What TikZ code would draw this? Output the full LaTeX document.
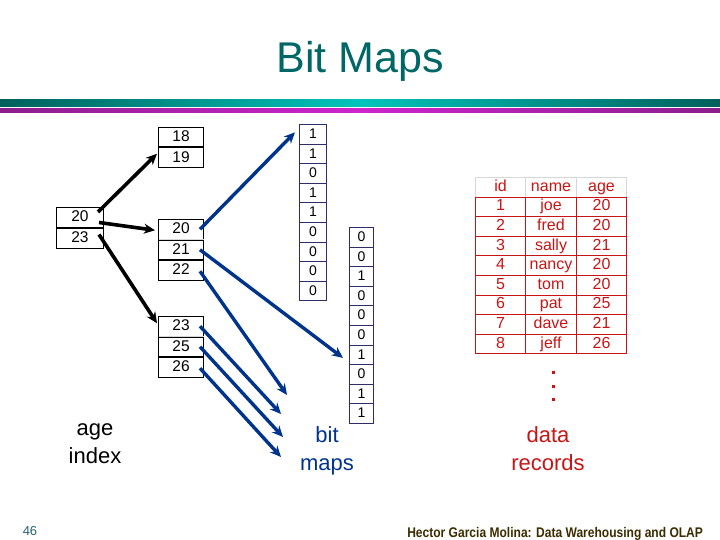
\documentclass[tikz,border=0pt]{standalone}
\usepackage{fontspec}
\setmainfont{Liberation Sans}
\usetikzlibrary{arrows.meta,calc}
\definecolor{titleteal}{RGB}{0,102,102}
\definecolor{bardark}{RGB}{0,96,92}
\definecolor{barlight}{RGB}{0,196,186}
\definecolor{magdark}{RGB}{140,30,140}
\definecolor{maglight}{RGB}{206,36,206}
\definecolor{arrowblue}{RGB}{0,51,140}
\definecolor{bmnavy}{RGB}{45,45,110}
\definecolor{recred}{RGB}{200,20,20}
\definecolor{hdrgray}{RGB}{215,215,215}
\definecolor{pagenum}{RGB}{40,100,110}
\definecolor{footcol}{RGB}{60,45,0}
\begin{document}
\begin{tikzpicture}[x=1pt,y=-1pt,
  icell/.style={draw=black, line width=1pt, anchor=north west, minimum width=45pt, minimum height=19.5pt, inner sep=0pt, text height=11pt, text depth=2pt, font=\fontsize{15.5}{15.5}\selectfont},
  bcell/.style={draw=bmnavy, line width=1pt, anchor=north west, minimum height=19.6pt, inner sep=0pt, text height=10.5pt, text depth=2pt, font=\fontsize{14}{14}\selectfont},
  tcell/.style={draw=recred, line width=1pt, anchor=north west, minimum height=19.6pt, inner sep=0pt, text height=11pt, text depth=3pt, text=recred, font=\fontsize{16}{16}\selectfont},
  hcell/.style={tcell, draw=hdrgray},
  blackarrow/.style={line width=3.6pt, draw=black, -{Stealth[length=11pt,width=10pt]}},
  bluearrow/.style={line width=3.4pt, draw=arrowblue, -{Stealth[length=11pt,width=10pt]}},
  label/.style={align=center, font=\fontsize{22}{28}\selectfont}
]
\useasboundingbox (0,0) rectangle (720,540);

% title
\node[text=titleteal, font=\fontsize{43}{43}\selectfont] (title) at (360,61) {Bit Maps};

% bars
\shade[left color=bardark, right color=bardark, middle color=barlight] (0,100) rectangle (720,107);
\shade[left color=magdark, right color=magdark, middle color=maglight] (0,109) rectangle (720,113);

% left index node
\node[icell, minimum width=47pt, minimum height=20pt] (l20) at (56,207) {20};
\node[icell, minimum width=47pt, minimum height=20pt] (l23) at (l20.south west) {23};

% leaf 18/19
\node[icell] (c18) at (158,127) {18};
\node[icell] (c19) at (c18.south west) {19};
% leaf 20/21/22
\node[icell] (c20) at (158,219) {20};
\node[icell] (c21) at (c20.south west) {21};
\node[icell] (c22) at (c21.south west) {22};
\draw[hdrgray, line width=1pt] ($(c20.south west)+(0.5,0)$) -- ($(c20.south east)+(-0.5,0)$);
% leaf 23/25/26
\node[icell] (c23) at (158,316) {23};
\node[icell] (c25) at (c23.south west) {25};
\node[icell] (c26) at (c25.south west) {26};
\draw[hdrgray, line width=1pt] ($(c23.south west)+(0.5,0)$) -- ($(c23.south east)+(-0.5,0)$);

% bitmaps
\foreach \v [count=\i] in {1,1,0,1,1,0,0,0,0}
  \node[bcell, minimum width=27pt] (ba\i) at (299,{124+(\i-1)*19.6}) {\v};
\foreach \v [count=\i] in {0,0,1,0,0,0,1,0,1,1}
  \node[bcell, minimum width=24pt] (bb\i) at (349,{227+(\i-1)*19.6}) {\v};

% data records table
\node[hcell, minimum width=50pt] (hid) at (475,177) {id};
\node[hcell, minimum width=51pt] (hname) at (525,177) {name};
\node[hcell, minimum width=50pt] (hage) at (576,177) {age};
\foreach \a/\b/\c [count=\i] in {1/joe/20,2/fred/20,3/sally/21,4/nancy/20,5/tom/20,6/pat/25,7/dave/21,8/jeff/26}{
  \node[tcell, minimum width=50pt] (rid\i) at (475,{177+\i*19.6}) {\a};
  \node[tcell, minimum width=51pt] (rname\i) at (525,{177+\i*19.6}) {\b};
  \node[tcell, minimum width=50pt] (rage\i) at (576,{177+\i*19.6}) {\c};
}
\foreach \yy in {372,386,399}
  \fill[recred] (551.5,\yy-1.5) rectangle (554.5,\yy+1.5);

% black arrows (index -> leaves)
\draw[blackarrow] ($(l20.north east)+(-6,5)$) -- ($(c19.west)+(-1,-4)$);
\draw[blackarrow] ($(l20.east)+(-5,5)$) -- ($(c20.west)+(-3,1)$);
\draw[blackarrow] ($(l23.east)+(-5,-4)$) -- ($(c23.west)+(-1,-3)$);

% blue arrows (leaves -> bitmaps)
\coordinate (e22) at (287,395);
\coordinate (e23) at (281,414);
\coordinate (e25) at (283,437);
\coordinate (e26) at (281,457);
\draw[bluearrow] ($(c20.east)+(-4,0)$) -- ($(ba1.west)+(-4,-2)$);
\draw[bluearrow] ($(c21.east)+(-4,0)$) -- ($(bb7.west)+(-6,3)$);
\draw[bluearrow] ($(c22.east)+(-4,1)$) -- (e22);
\draw[bluearrow] ($(c23.east)+(-4,0)$) -- (e23);
\draw[bluearrow] ($(c25.east)+(-4,0)$) -- (e25);
\draw[bluearrow] ($(c26.east)+(-4,1)$) -- (e26);

% labels
\node[label, text=black] (agelbl) at (95,444) {age\\index};
\node[label, text=arrowblue] (bitlbl) at (327,451) {bit\\maps};
\node[label, text=recred] (datalbl) at (548,449) {data\\records};

% footer
\node[text=pagenum, font=\fontsize{13}{13}\selectfont] (pnum) at (30,531) {46};
\node[anchor=east, text=footcol, font=\bfseries\fontsize{14}{14}\selectfont, xscale=0.86] (foot) at (706,534) {Hector Garcia Molina: Data Warehousing and OLAP};
\end{tikzpicture}
\end{document}
